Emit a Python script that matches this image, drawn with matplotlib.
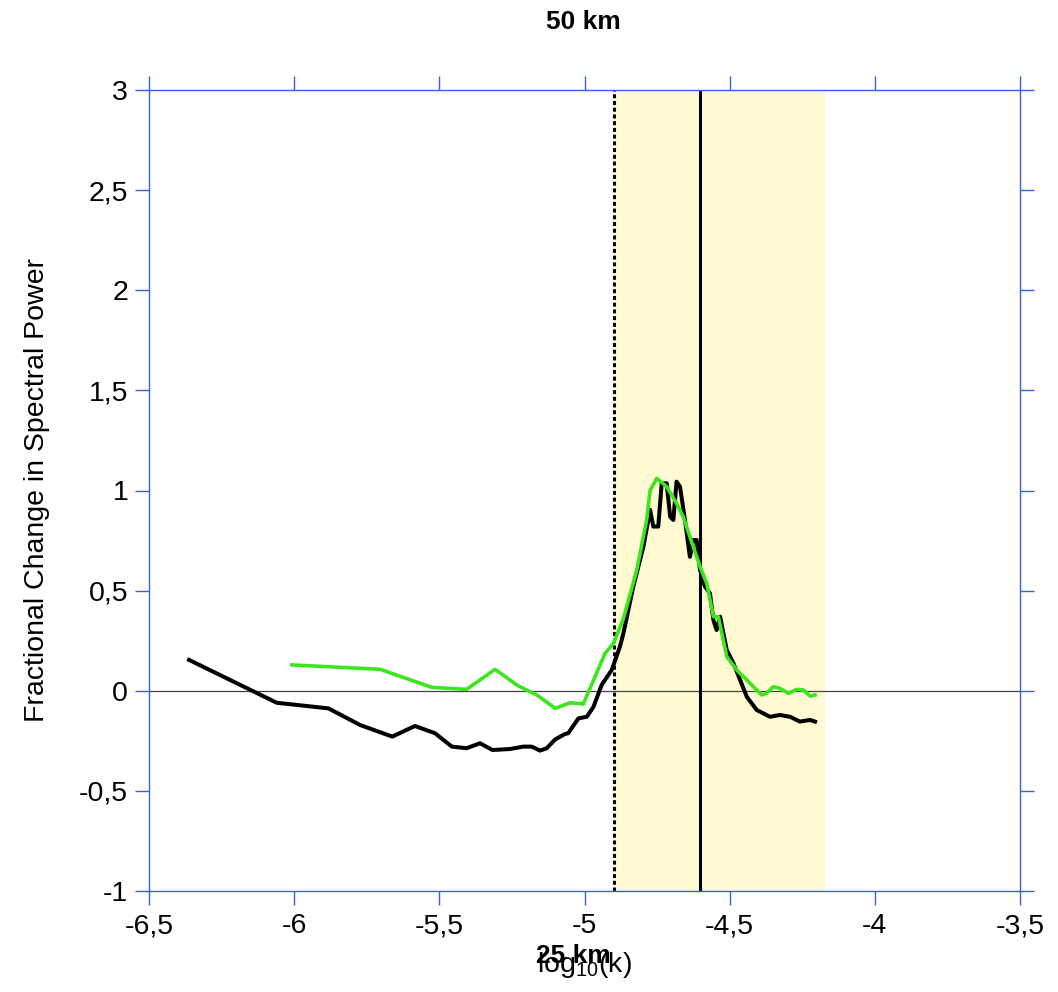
import numpy as np
import matplotlib.pyplot as plt
from matplotlib.ticker import FuncFormatter

plt.rcParams['font.family'] = ['Liberation Sans', 'DejaVu Sans']
plt.rcParams['mathtext.fontset'] = 'custom'
plt.rcParams['mathtext.rm'] = 'Liberation Sans'

# black curve (log10 k, fractional change)
black_x = [-6.362, -6.06, -5.882, -5.773, -5.662, -5.584, -5.515, -5.457, -5.406,
           -5.36, -5.317, -5.257, -5.211, -5.182, -5.153, -5.13, -5.101, -5.067,
           -5.056, -5.021, -4.992, -4.969, -4.941, -4.906, -4.878, -4.866, -4.832,
           -4.797, -4.774, -4.763, -4.746, -4.734, -4.717, -4.705, -4.694, -4.683,
           -4.671, -4.654, -4.637, -4.625, -4.614, -4.602, -4.585, -4.568, -4.556,
           -4.545, -4.533, -4.51, -4.487, -4.464, -4.441, -4.407, -4.361, -4.327,
           -4.292, -4.258, -4.223, -4.206]
black_y = [0.154, -0.06, -0.088, -0.171, -0.229, -0.176, -0.212, -0.279, -0.287,
           -0.262, -0.296, -0.291, -0.279, -0.279, -0.299, -0.287, -0.243, -0.216,
           -0.212, -0.138, -0.13, -0.08, 0.029, 0.104, 0.22, 0.287, 0.52,
           0.72, 0.903, 0.82, 0.82, 1.036, 1.036, 0.869, 0.853, 1.044,
           1.019, 0.853, 0.669, 0.753, 0.753, 0.603, 0.52, 0.487, 0.353,
           0.303, 0.37, 0.203, 0.137, 0.054, -0.03, -0.096, -0.13, -0.121,
           -0.13, -0.154, -0.146, -0.154]

# green curve
green_x = [-6.008, -5.704, -5.526, -5.406, -5.308, -5.228, -5.164, -5.101, -5.05,
           -5.004, -4.929, -4.9, -4.866, -4.82, -4.786, -4.774, -4.751, -4.717,
           -4.683, -4.66, -4.637, -4.602, -4.579, -4.556, -4.539, -4.51, -4.476,
           -4.441, -4.39, -4.373, -4.35, -4.327, -4.298, -4.269, -4.246, -4.223,
           -4.206]
green_y = [0.129, 0.107, 0.017, 0.007, 0.107, 0.024, -0.021, -0.088, -0.06,
           -0.066, 0.187, 0.237, 0.36, 0.603, 0.853, 1.0, 1.061, 1.019,
           0.936, 0.869, 0.769, 0.62, 0.536, 0.37, 0.37, 0.17, 0.104,
           0.054, -0.021, -0.013, 0.02, 0.012, -0.013, 0.007, 0.004, -0.027,
           -0.021]

band = (-4.898, -4.171)
dotted_x = -4.898
solid_x = -4.602
x_ticks = [-6.5, -6, -5.5, -5, -4.5, -4, -3.5]
y_ticks = [-1, -0.5, 0, 0.5, 1, 1.5, 2, 2.5, 3]

blue = '#3B5EE6'
fs = 20.5

fig = plt.figure(figsize=(10.58, 9.92), dpi=100)
ax = fig.add_axes([149 / 1058, 101 / 992, 871 / 1058, 801 / 992])

ax.axvspan(band[0], band[1], color='#FFFAD2', lw=0, zorder=0)
ax.axhline(0, color='#444444', lw=0.9, zorder=1)
ax.axvline(dotted_x, color='black', lw=2.2, ls=(0, (1.3, 0.9)), zorder=2)
ax.axvline(solid_x, color='black', lw=2.2, zorder=2)

ax.plot(black_x, black_y, color='black', lw=2.9, zorder=3, solid_joinstyle='round')
ax.plot(green_x, green_y, color='#3CE61E', lw=2.6, zorder=4, solid_joinstyle='round')

ax.set_xlim(-6.5, -3.5)
ax.set_ylim(-1, 3)
ax.set_xticks(x_ticks)
ax.set_yticks(y_ticks)

fmt = FuncFormatter(lambda v, p: ('%g' % v).replace('.', ','))
ax.xaxis.set_major_formatter(fmt)
ax.yaxis.set_major_formatter(fmt)

for s in ax.spines.values():
    s.set_color(blue)
    s.set_linewidth(1.0)

ax.tick_params(axis='both', direction='out', length=10, width=1.0, color=blue,
               labelsize=fs, pad=5)
ax.tick_params(axis='x', top=True, labeltop=False, pad=6)
ax.tick_params(axis='y', right=True, labelright=False)

ax.set_ylabel('Fractional Change in Spectral Power', fontsize=fs, labelpad=21)
ax.set_xlabel(r'log$_{10}$(k)', fontsize=fs, labelpad=8)

fig.text(583 / 1058, 1 - 22 / 992, '50 km', ha='center', va='center',
         fontsize=19, fontweight='bold')
fig.text(573 / 1058, 1 - 956 / 992, '25 km', ha='center', va='center',
         fontsize=19, fontweight='bold')

fig.savefig('out.png', dpi=100)
